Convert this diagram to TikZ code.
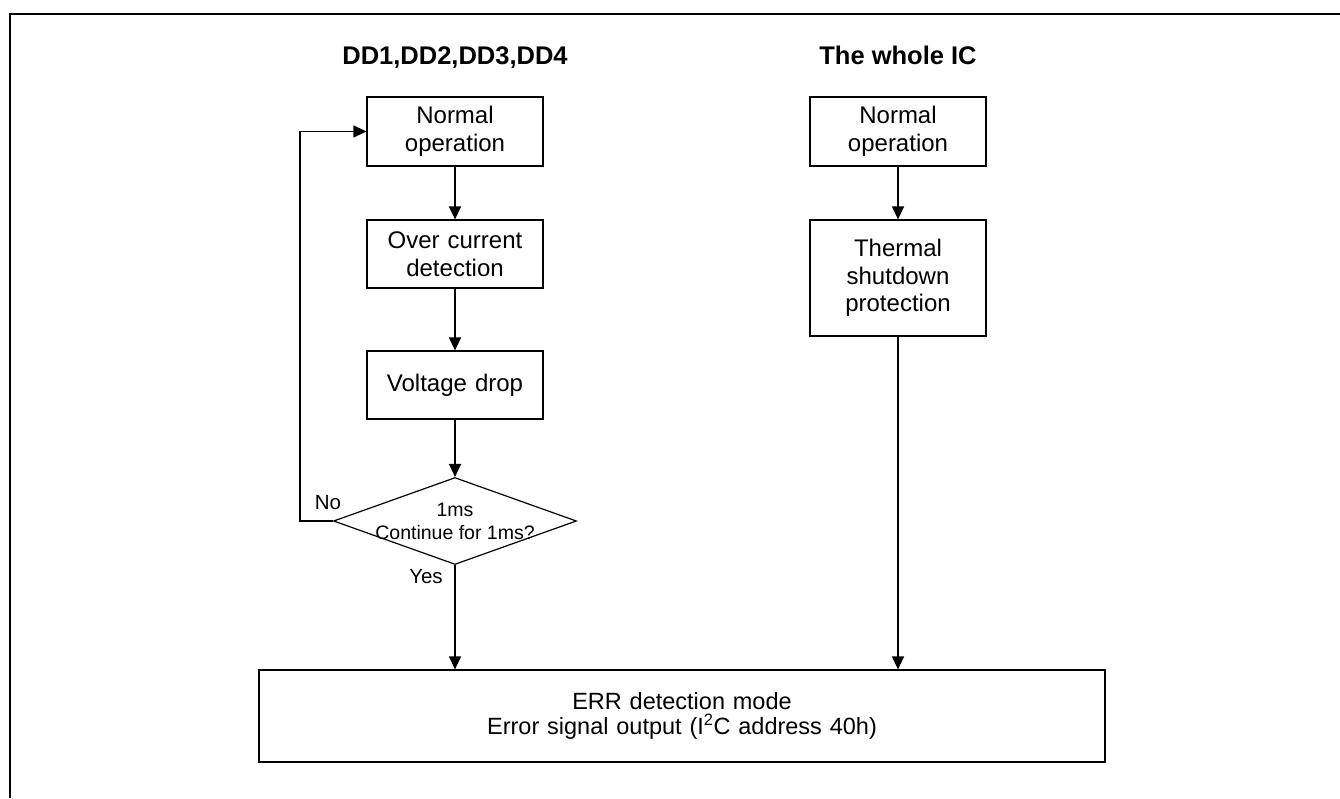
\documentclass[tikz,border=0pt]{standalone}
\usepackage{fontspec}
\setmainfont{Liberation Sans}
\usetikzlibrary{positioning,shapes.geometric,arrows.meta}

\begin{document}
\begin{tikzpicture}[
        x=1pt, y=-1pt,
        node distance=130pt,
        block/.style={rectangle, draw=black, line width=1.2pt, minimum width=176pt, text width=170pt, align=center, inner sep=0pt, font=\fontsize{24}{27.5}\selectfont},
        errbox/.style={rectangle, draw=black, line width=1.2pt, minimum width=846pt, minimum height=92pt, text width=600pt, align=center, inner sep=0pt, font=\fontsize{23.5}{24.5}\selectfont},
        decision/.style={diamond, draw=black, line width=1.2pt, minimum width=243pt, minimum height=87pt, inner sep=0pt},
        dtext/.style={align=center, inner sep=0pt, font=\fontsize{19.5}{23}\selectfont},
        arrow/.style={-{Triangle[length=13pt,width=12pt]}, line width=1.2pt},
        heading/.style={anchor=base, font=\fontsize{25.5}{30}\selectfont\bfseries},
        label/.style={font=\fontsize{20.5}{24}\selectfont}
    ]
        \useasboundingbox (0,0) rectangle (1340,798);

        % Frame
        \draw[line width=2.5pt] (1340,14) -- (10,14) -- (10,798);

        % Headings
        \node[heading] (lhead) at (455,64) {DD1,DD2,DD3,DD4};
        \node[heading] (rhead) at (898,64) {The whole IC};

        % DD1..DD4 column
        \node[block, minimum height=69pt] (lnorm) at (455,131.5) {Normal\\operation};
        \node[block, minimum height=68pt, below of=lnorm, yshift=7.5pt] (ocd) {Over current\\detection};
        \node[block, minimum height=68pt, below of=ocd, yshift=-1pt] (vdrop) {Voltage drop};
        \node[decision, below of=vdrop, yshift=-6pt] (chk) {};
        \node[dtext] (chktxt) at (chk) {1ms\\Continue for 1ms?};

        % Whole IC column
        \node[block, minimum height=69pt] (rnorm) at (898,131.5) {Normal\\operation};
        \node[block, minimum height=116pt] (thsd) at (898,278) {Thermal\\shutdown\\protection};

        % Common output
        \node[errbox] (err) at (682,716) {ERR detection mode\\Error signal output (I\textsuperscript{2}C address 40h)};

        % Arrows
        \draw[arrow] (lnorm) -- (ocd);
        \draw[arrow] (ocd) -- (vdrop);
        \draw[arrow] (vdrop) -- (chk);
        \draw[arrow] (chk.west) -- ++(-33,0) |- (lnorm.west);
        \draw[arrow] (chk.south) -- (chk.south |- err.north);
        \draw[arrow] (rnorm) -- (thsd);
        \draw[arrow] (thsd.south) -- (thsd.south |- err.north);

        % Labels
        \node[label] (nolbl) at (328,503) {No};
        \node[label] (yeslbl) at (426,577) {Yes};
    \end{tikzpicture}
\end{document}
